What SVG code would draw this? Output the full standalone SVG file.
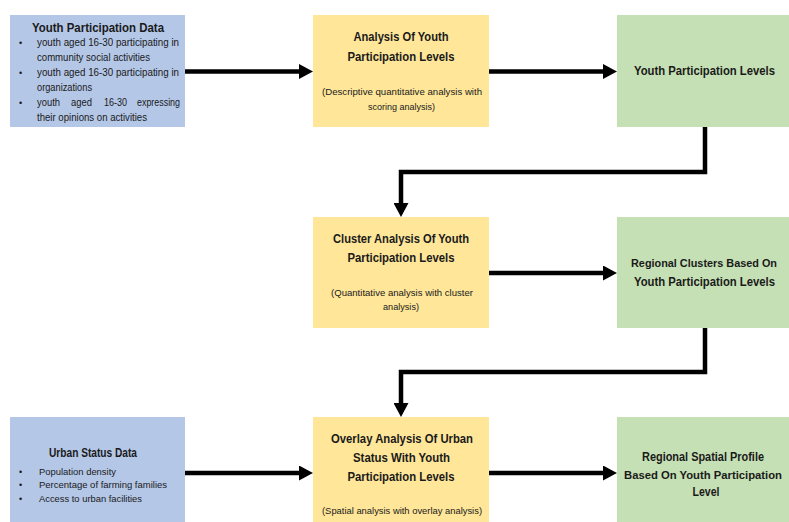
<svg xmlns="http://www.w3.org/2000/svg" width="789" height="522" viewBox="0 0 789 522">
<style>
  .blue{fill:#B4C7E7}
  .yellow{fill:#FFE699}
  .green{fill:#C5E0B4}
  text{font-family:"Liberation Sans",Arial,sans-serif;fill:#1a1a1a}
  .t{font-size:12px;font-weight:bold;text-anchor:middle}
  .tn{font-size:10.5px}
  .tl{font-size:12px;font-weight:bold}
  .s{font-size:9.5px;text-anchor:middle}
  .b{font-size:10px}
  .bs{font-size:9.5px}
  .bul{font-size:9px}
  .conn{fill:none;stroke:#000;stroke-width:4.5;stroke-linejoin:miter;stroke-linecap:butt;marker-end:url(#ah)}
</style>
<defs>
  <marker id="ah" markerUnits="userSpaceOnUse" markerWidth="14" markerHeight="15" refX="1" refY="7.5" orient="auto" viewBox="0 0 14 15">
    <path d="M0,0 L14,7.5 L0,15 Z" fill="#000"/>
  </marker>
</defs>
<rect width="789" height="522" fill="#fff"/>

<g id="connectors">
  <path class="conn" d="M185,71.5 H300"/>
  <path class="conn" d="M489,71.5 H604"/>
  <path class="conn" d="M705,127 V172 H401 V204"/>
  <path class="conn" d="M489,273 H604"/>
  <path class="conn" d="M705,328 V372 H401 V404"/>
  <path class="conn" d="M185,473 H300"/>
  <path class="conn" d="M489,473 H604"/>
</g>

<g id="youth-data">
  <rect class="blue" x="10" y="15" width="175" height="112"/>
  <text class="tl" x="32" y="32" textLength="132" lengthAdjust="spacingAndGlyphs">Youth Participation Data</text>
  <text class="bul" x="19" y="46">•</text>
  <text class="b" x="37" y="45.5" textLength="142" lengthAdjust="spacingAndGlyphs">youth aged 16-30 participating in</text>
  <text class="b" x="37" y="60.5" textLength="113" lengthAdjust="spacingAndGlyphs">community social activities</text>
  <text class="bul" x="19" y="76">•</text>
  <text class="b" x="37" y="75.5" textLength="142" lengthAdjust="spacingAndGlyphs">youth aged 16-30 participating in</text>
  <text class="b" x="37" y="90.5" textLength="55" lengthAdjust="spacingAndGlyphs">organizations</text>
  <text class="bul" x="19" y="106">•</text>
  <text class="b" x="37" y="105.5" textLength="23" lengthAdjust="spacingAndGlyphs">youth</text>
  <text class="b" x="71" y="105.5" textLength="21" lengthAdjust="spacingAndGlyphs">aged</text>
  <text class="b" x="104" y="105.5" textLength="23" lengthAdjust="spacingAndGlyphs">16-30</text>
  <text class="b" x="137" y="105.5" textLength="43" lengthAdjust="spacingAndGlyphs">expressing</text>
  <text class="b" x="37" y="120.5" textLength="110" lengthAdjust="spacingAndGlyphs">their opinions on activities</text>
</g>

<g id="analysis-levels">
  <rect class="yellow" x="313" y="15" width="176" height="112"/>
  <text class="t" x="401" y="41" textLength="95" lengthAdjust="spacingAndGlyphs">Analysis Of Youth</text>
  <text class="t" x="401" y="61" textLength="107" lengthAdjust="spacingAndGlyphs">Participation Levels</text>
  <text class="s" x="402" y="95" textLength="160" lengthAdjust="spacingAndGlyphs">(Descriptive quantitative analysis with</text>
  <text class="s" x="401.5" y="110" textLength="67" lengthAdjust="spacingAndGlyphs">scoring analysis)</text>
</g>

<g id="youth-levels">
  <rect class="green" x="617" y="15" width="172" height="112"/>
  <text class="t" x="704.5" y="75" textLength="141" lengthAdjust="spacingAndGlyphs">Youth Participation Levels</text>
</g>

<g id="cluster-analysis">
  <rect class="yellow" x="313" y="217" width="176" height="111"/>
  <text class="t" x="401" y="243" textLength="136" lengthAdjust="spacingAndGlyphs">Cluster Analysis Of Youth</text>
  <text class="t" x="401" y="262" textLength="107" lengthAdjust="spacingAndGlyphs">Participation Levels</text>
  <text class="s" x="402" y="296" textLength="142" lengthAdjust="spacingAndGlyphs">(Quantitative analysis with cluster</text>
  <text class="s" x="401" y="310" textLength="36" lengthAdjust="spacingAndGlyphs">analysis)</text>
</g>

<g id="regional-clusters">
  <rect class="green" x="617" y="217" width="172" height="111"/>
  <text class="t tn" x="704" y="267" textLength="146" lengthAdjust="spacingAndGlyphs">Regional Clusters Based On</text>
  <text class="t" x="704.5" y="286" textLength="141" lengthAdjust="spacingAndGlyphs">Youth Participation Levels</text>
</g>

<g id="urban-data">
  <rect class="blue" x="10" y="417" width="175" height="105"/>
  <text class="tl" x="49" y="457" textLength="88" lengthAdjust="spacingAndGlyphs">Urban Status Data</text>
  <text class="bul" x="19" y="475">•</text>
  <text class="bs" x="39" y="475" textLength="77" lengthAdjust="spacingAndGlyphs">Population density</text>
  <text class="bul" x="19" y="488">•</text>
  <text class="bs" x="39" y="487.5" textLength="128" lengthAdjust="spacingAndGlyphs">Percentage of farming families</text>
  <text class="bul" x="19" y="502">•</text>
  <text class="bs" x="39" y="501.5" textLength="103" lengthAdjust="spacingAndGlyphs">Access to urban facilities</text>
</g>

<g id="overlay-analysis">
  <rect class="yellow" x="313" y="417" width="176" height="105"/>
  <text class="t" x="402" y="443" textLength="142" lengthAdjust="spacingAndGlyphs">Overlay Analysis Of Urban</text>
  <text class="t" x="401.5" y="462" textLength="97" lengthAdjust="spacingAndGlyphs">Status With Youth</text>
  <text class="t" x="401" y="481" textLength="107" lengthAdjust="spacingAndGlyphs">Participation Levels</text>
  <text class="s" x="402" y="514" textLength="160" lengthAdjust="spacingAndGlyphs">(Spatial analysis with overlay analysis)</text>
</g>

<g id="spatial-profile">
  <rect class="green" x="617" y="417" width="172" height="105"/>
  <text class="t" x="703" y="461" textLength="122" lengthAdjust="spacingAndGlyphs">Regional Spatial Profile</text>
  <text class="t tn" x="703" y="479" textLength="158" lengthAdjust="spacingAndGlyphs">Based On Youth Participation</text>
  <text class="t" x="706" y="496" textLength="27" lengthAdjust="spacingAndGlyphs">Level</text>
</g>
</svg>
